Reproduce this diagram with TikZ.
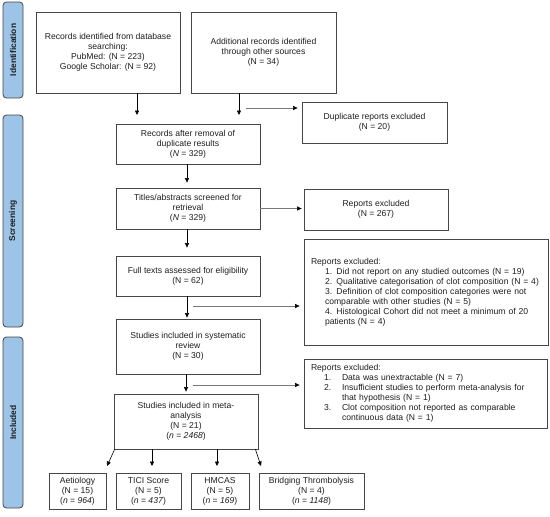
\documentclass[tikz,border=0pt]{standalone}
\usepackage{fontspec}
\setmainfont{Liberation Sans}
\usetikzlibrary{arrows.meta,calc}
\definecolor{barfill}{RGB}{157,195,230}
\definecolor{boxline}{RGB}{70,70,70}
\definecolor{txt}{RGB}{30,30,30}
\definecolor{conn}{RGB}{120,120,120}
\tikzset{
  box/.style={draw=boxline, line width=0.8pt, align=center, inner sep=0pt, text=txt,
    font=\fontsize{8.6}{10}\selectfont},
  listbox/.style={box, align=left, inner xsep=7pt, inner ysep=0pt},
  bar/.style={draw=boxline, fill=barfill, line width=0.8pt, rounded corners=3.5pt, rotate=90,
    inner sep=0pt, text=txt, font=\fontsize{8.4}{10}\selectfont\bfseries},
  arr/.style={draw=black, line width=0.6pt, -{Triangle[width=4pt,length=4.5pt]}},
  garr/.style={draw=conn, line width=0.6pt, -{Triangle[width=4pt,length=4.5pt,color=black]}},
}
\begin{document}
\begin{tikzpicture}[x=1pt,y=-1pt]
\useasboundingbox (0,0) rectangle (550,517);

% side bars
\node[bar, minimum width=96pt, minimum height=20pt] (bid) at (13,50) {Identification};
\node[bar, minimum width=212pt, minimum height=20pt] (bsc) at (13,221) {Screening};
\node[bar, minimum width=171pt, minimum height=20pt] (bin) at (13,422.5) {Included};

% boxes
\node[box, minimum width=144pt, minimum height=81pt] (id1) at (108,52.5)
  {Records identified from database\\searching:\\PubMed: (N = 223)\\Google Scholar: (N = 92)};
\node[box, minimum width=145pt, minimum height=81pt] (id2) at (263.5,52.5)
  {Additional records identified\\through other sources\\(N = 34)};
\node[box, minimum width=145pt, minimum height=41pt] (dup) at (374.5,122.5)
  {Duplicate reports excluded\\(N = 20)};
\node[box, minimum width=144pt, minimum height=40pt] (rec) at (188,144)
  {Records after removal of\\duplicate results\\(\textit{N} = 329)};
\node[box, minimum width=144pt, minimum height=41pt] (tit) at (188,208.5)
  {Titles/abstracts screened for\\retrieval\\(\textit{N} = 329)};
\node[box, minimum width=144pt, minimum height=41pt] (rex) at (376,209.5)
  {Reports excluded\\(N = 267)};
\node[box, minimum width=144pt, minimum height=40pt] (ful) at (188,276)
  {Full texts assessed for eligibility\\(N = 62)};
\node[listbox, text width=230pt, minimum height=106pt] (big) at (426,292)
  {\begin{tabular}{@{}p{14pt}@{}l@{}}
   \multicolumn{2}{@{}l@{}}{Reports excluded:}\\
   & 1. Did not report on any studied outcomes (N = 19)\\
   & 2. Qualitative categorisation of clot composition (N = 4)\\
   & 3. Definition of clot composition categories were not\\
   & comparable with other studies (N = 5)\\
   & 4. Histological Cohort did not meet a minimum of 20\\
   & patients (N = 4)
   \end{tabular}};
\node[box, minimum width=144pt, minimum height=55pt] (sys) at (188,346.5)
  {Studies included in systematic\\review\\(N = 30)};
\node[listbox, text width=229pt, minimum height=69pt] (ex3) at (425.5,393.5)
  {\begin{tabular}{@{}p{13pt}@{}p{18pt}@{}l@{}}
   \multicolumn{3}{@{}l@{}}{Reports excluded:}\\
   & 1. & Data was unextractable (N = 7)\\
   & 2. & Insufficient studies to perform meta-analysis for\\
   & & that hypothesis (N = 1)\\
   & 3. & Clot composition not reported as comparable\\
   & & continuous data (N = 1)
   \end{tabular}};
\node[box, minimum width=144pt, minimum height=55pt] (met) at (186,421.5)
  {Studies included in meta-\\analysis\\(N = 21)\\(\textit{n} = \textit{2468})};
\node[box, minimum width=57pt, minimum height=36pt] (aet) at (77.5,491)
  {Aetiology\\(N = 15)\\(\textit{n} = \textit{964})};
\node[box, minimum width=65pt, minimum height=36pt] (tic) at (148.5,491)
  {TICI Score\\(N = 5)\\(\textit{n} = \textit{437})};
\node[box, minimum width=58pt, minimum height=36pt] (hmc) at (220,491)
  {HMCAS\\(N = 5)\\(\textit{n} = \textit{169})};
\node[box, minimum width=105pt, minimum height=36pt] (bri) at (311.5,491)
  {Bridging Thrombolysis\\(N = 4)\\(\textit{n} = \textit{1148})};

% free ends
\coordinate (r1) at (137,115);
\coordinate (r2) at (239,115);
\coordinate (c1) at (246,108);
\coordinate (c3) at (193,306);
\coordinate (c4) at (193,385);
\coordinate (a1) at (107,466);
\coordinate (t1) at (152,466);
\coordinate (h1) at (217,466);
\coordinate (g1) at (261,466);

% connectors
\draw[arr] (id1.south -| r1) -- (r1);
\draw[arr] (id2.south -| r2) -- (r2);
\draw[garr, shorten >=4pt] (c1) -- (c1 -| dup.west);
\draw[arr, shorten >=5pt] (rec.south -| 187,0) -- (tit.north -| 187,0);
\draw[garr, shorten >=2pt] (tit.east) -- (tit.east -| rex.west);
\draw[arr, shorten >=8pt] (tit.south -| 187,0) -- (ful.north -| 187,0);
\draw[arr, shorten >=1pt] (ful.south -| 187,0) -- (sys.north -| 187,0);
\draw[garr, shorten >=4pt] (c3) -- (c3 -| big.west);
\draw[arr, shorten >=2pt] (sys.south -| 186,0) -- (met.north -| 186,0);
\draw[garr, shorten >=4pt] (c4) -- (c4 -| ex3.west);
\draw[arr] ([xshift=1pt]met.south west) -- (a1);
\draw[arr] (met.south -| t1) -- (t1);
\draw[arr] (met.south -| h1) -- (h1);
\draw[arr] ([xshift=-3pt]met.south east) -- (g1);
\end{tikzpicture}
\end{document}
